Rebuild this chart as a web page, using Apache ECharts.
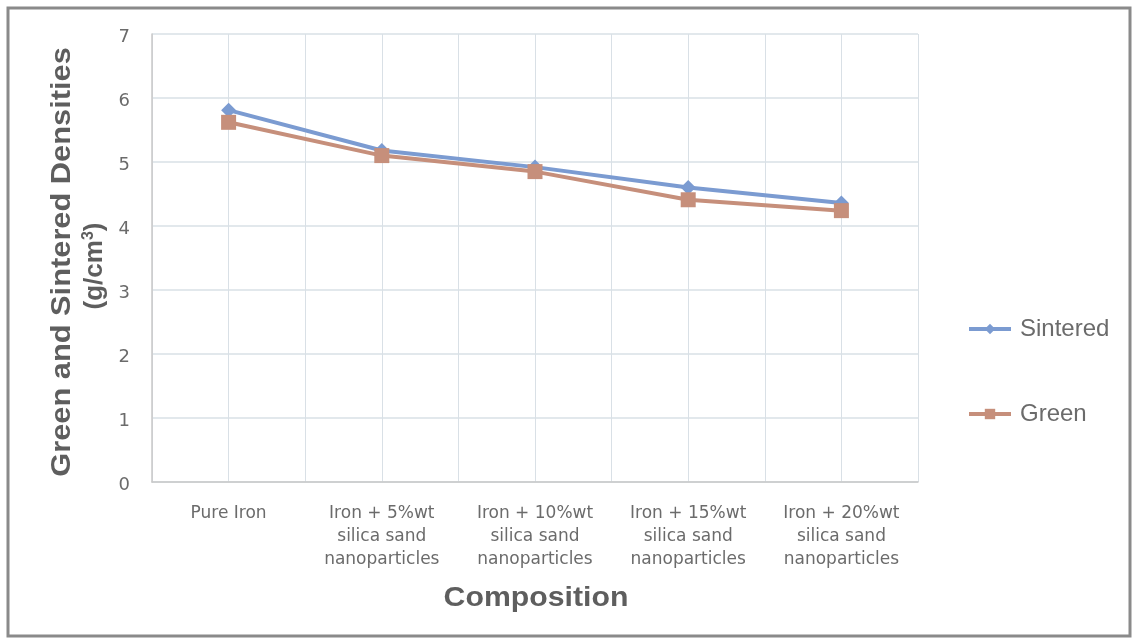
<!DOCTYPE html>
<html>
<head>
<meta charset="utf-8">
<style>
  html, body { margin: 0; padding: 0; background: #ffffff; }
  #chart { width: 1138px; height: 643px; }
</style>
<script src="https://cdn.jsdelivr.net/npm/echarts@6/dist/echarts.min.js"></script>
</head>
<body>
<div id="chart"></div>
<script>
// Compositions on the category axis
const categories = [
  'Pure Iron',
  'Iron + 5%wt\nsilica sand\nnanoparticles',
  'Iron + 10%wt\nsilica sand\nnanoparticles',
  'Iron + 15%wt\nsilica sand\nnanoparticles',
  'Iron + 20%wt\nsilica sand\nnanoparticles'
];
// Densities in g/cm3
const sintered = [5.81, 5.18, 4.92, 4.60, 4.36];
const green = [5.62, 5.10, 4.85, 4.41, 4.24];
const yTicks = [0, 1, 2, 3, 4, 5, 6, 7];

const textGray = '#6b6b6b';
const titleGray = '#5e5e5e';
const gridColor = '#d9e0e6';
const blue = '#7b9bd1';
const salmon = '#c68f7b';
const sansFont = '"Liberation Sans", Arial, sans-serif';

const chart = echarts.init(document.getElementById('chart'));
chart.setOption({
  animation: false,
  backgroundColor: '#ffffff',
  grid: { left: 152, right: 220, top: 34, bottom: 161 },
  xAxis: [
    {
      type: 'category',
      data: categories,
      boundaryGap: true,
      axisLine: { lineStyle: { color: '#c8c8c8', width: 1.5 } },
      axisTick: { show: false },
      splitLine: { show: false },
      axisLabel: {
        interval: 0,
        color: textGray,
        fontFamily: '"DejaVu Sans", sans-serif',
        fontSize: 17,
        lineHeight: 23,
        margin: 20,
        verticalAlign: 'top'
      }
    },
    {
      // half-category vertical grid lines
      type: 'value',
      position: 'bottom',
      min: 0,
      max: 10,
      interval: 1,
      axisLine: { show: false },
      axisTick: { show: false },
      axisLabel: { show: false },
      splitLine: { show: true, lineStyle: { color: gridColor, width: 1 } }
    }
  ],
  yAxis: {
    type: 'value',
    min: yTicks[0],
    max: yTicks[yTicks.length - 1],
    interval: 1,
    axisLine: { show: true, lineStyle: { color: '#c8c8c8', width: 1.5 } },
    axisTick: { show: false },
    axisLabel: {
      margin: 22,
      formatter: v => yTicks.includes(v) ? '{t|' + v + '}' : '',
      rich: {
        t: {
          color: textGray,
          fontFamily: '"DejaVu Sans", sans-serif',
          fontSize: 18,
          padding: [7, 0, 0, 0]
        }
      }
    },
    splitLine: { lineStyle: { color: gridColor, width: 1.5 } }
  },
  legend: {
    orient: 'vertical',
    left: 962,
    top: 312,
    itemWidth: 42,
    itemHeight: 13,
    itemGap: 61,
    textStyle: {
      color: textGray,
      fontFamily: sansFont,
      fontSize: 24,
      padding: [0, 0, 0, 4]
    },
    data: [
      { name: 'Sintered', lineStyle: { width: 4 } },
      { name: 'Green', lineStyle: { width: 4 } }
    ]
  },
  series: [
    {
      name: 'Sintered',
      type: 'line',
      data: sintered,
      symbol: 'diamond',
      symbolSize: 15,
      lineStyle: { color: blue, width: 4 },
      itemStyle: { color: blue }
    },
    {
      name: 'Green',
      type: 'line',
      data: green,
      symbol: 'rect',
      symbolSize: 15,
      lineStyle: { color: salmon, width: 4 },
      itemStyle: { color: salmon }
    }
  ],
  graphic: [
    {
      type: 'rect',
      shape: { x: 8, y: 8, width: 1122, height: 628 },
      style: { fill: null, stroke: '#8a8a8a', lineWidth: 3 },
      silent: true
    },
    {
      // y-axis title, first line
      type: 'text',
      x: 62,
      y: 262,
      rotation: Math.PI / 2,
      scaleX: 1.1,
      style: {
        text: 'Green and Sintered Densities',
        fill: titleGray,
        font: 'bold 28px ' + sansFont,
        align: 'center',
        verticalAlign: 'middle'
      }
    },
    {
      // y-axis title, unit line with superscript
      type: 'text',
      x: 95,
      y: 266,
      rotation: Math.PI / 2,
      style: {
        text: '(g/cm{sup|3})',
        fill: titleGray,
        font: 'bold 26px ' + sansFont,
        align: 'center',
        verticalAlign: 'middle',
        rich: {
          sup: {
            fill: titleGray,
            font: 'bold 16px ' + sansFont,
            verticalAlign: 'top',
            padding: [0, 0, 12, 0]
          }
        }
      }
    },
    {
      // x-axis title
      type: 'text',
      x: 536,
      y: 598,
      scaleX: 1.08,
      style: {
        text: 'Composition',
        fill: titleGray,
        font: 'bold 28px ' + sansFont,
        align: 'center',
        verticalAlign: 'middle'
      }
    }
  ]
});
</script>
</body>
</html>
